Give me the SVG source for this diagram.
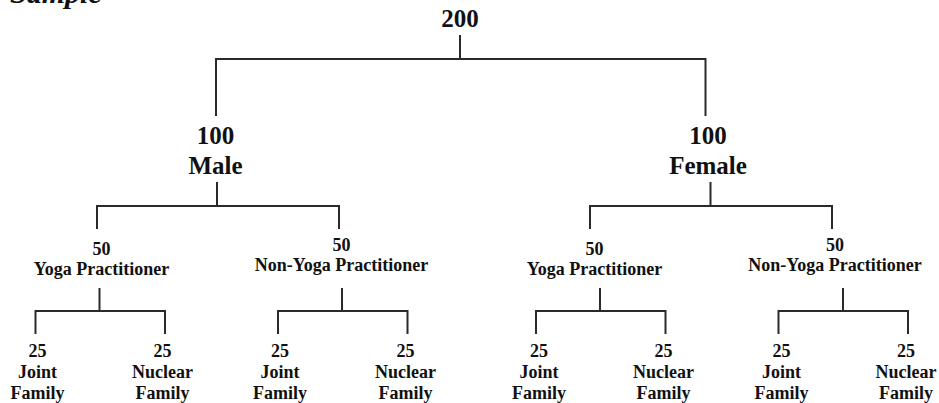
<svg xmlns="http://www.w3.org/2000/svg" width="939" height="403" viewBox="0 0 939 403">
<style>
text{font-family:"Liberation Serif","Times New Roman",serif;font-weight:bold;fill:#111;text-anchor:middle}
.t1{font-size:25px}
.t2{font-size:18px}
.title{font-size:30px;font-style:italic;text-anchor:start}
#connectors path{fill:none;stroke:#2a2a2a;stroke-width:2}
</style>
<rect width="939" height="403" fill="#fff"/>
<text class="title" x="10" y="3">Sample</text>
<g id="connectors">
<path d="M460 35V59M216 116V59H705.5V116"/>
<path d="M217 182V206M97 229V206H339V229"/>
<path d="M710.5 182V206M590 229V206H832V229"/>
<path d="M99.5 288V311M35.5 334V311H165V334"/>
<path d="M342 288V311M278 334V311H407.5V334"/>
<path d="M600 288V311M536 334V311H665.5V334"/>
<path d="M843 288V311M778.5 334V311H908V334"/>
</g>
<g id="root"><text class="t1" x="460" y="27">200</text></g>
<g id="male"><text class="t1" x="215.5" y="144">100</text><text class="t1" x="215.5" y="174">Male</text></g>
<g id="female"><text class="t1" x="708" y="144">100</text><text class="t1" x="708" y="174">Female</text></g>
<g id="male-yoga"><text class="t2" x="101.5" y="255">50</text><text class="t2" x="101.5" y="275">Yoga Practitioner</text></g>
<g id="male-nonyoga"><text class="t2" x="341.5" y="251">50</text><text class="t2" x="341.5" y="271">Non-Yoga Practitioner</text></g>
<g id="female-yoga"><text class="t2" x="594.5" y="255">50</text><text class="t2" x="594.5" y="275">Yoga Practitioner</text></g>
<g id="female-nonyoga"><text class="t2" x="835" y="251">50</text><text class="t2" x="835" y="271">Non-Yoga Practitioner</text></g>
<g id="m-y-joint"><text class="t2" x="37.5" y="357">25</text><text class="t2" x="37.5" y="378">Joint</text><text class="t2" x="37.5" y="399">Family</text></g>
<g id="m-y-nuclear"><text class="t2" x="162.5" y="357">25</text><text class="t2" x="162.5" y="378">Nuclear</text><text class="t2" x="162.5" y="399">Family</text></g>
<g id="m-n-joint"><text class="t2" x="280" y="357">25</text><text class="t2" x="280" y="378">Joint</text><text class="t2" x="280" y="399">Family</text></g>
<g id="m-n-nuclear"><text class="t2" x="405.5" y="357">25</text><text class="t2" x="405.5" y="378">Nuclear</text><text class="t2" x="405.5" y="399">Family</text></g>
<g id="f-y-joint"><text class="t2" x="539" y="357">25</text><text class="t2" x="539" y="378">Joint</text><text class="t2" x="539" y="399">Family</text></g>
<g id="f-y-nuclear"><text class="t2" x="663.5" y="357">25</text><text class="t2" x="663.5" y="378">Nuclear</text><text class="t2" x="663.5" y="399">Family</text></g>
<g id="f-n-joint"><text class="t2" x="781.5" y="357">25</text><text class="t2" x="781.5" y="378">Joint</text><text class="t2" x="781.5" y="399">Family</text></g>
<g id="f-n-nuclear"><text class="t2" x="906" y="357">25</text><text class="t2" x="906" y="378">Nuclear</text><text class="t2" x="906" y="399">Family</text></g>
</svg>
